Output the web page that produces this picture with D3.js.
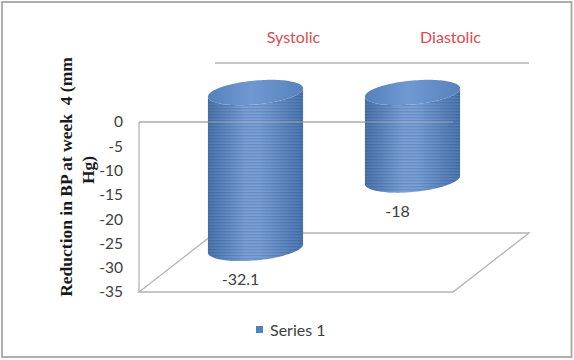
<!DOCTYPE html>
<html>
<head>
<meta charset="utf-8">
<script src="https://cdn.jsdelivr.net/npm/d3@7"></script>
<style>
  html, body { margin: 0; padding: 0; background: #fff; }
  svg { display: block; }
  text { white-space: pre; }
</style>
</head>
<body>
<script>
// ---- data ----
const categories = ["Systolic", "Diastolic"];
const values = [-32.1, -18];
const tickValues = [0, -5, -10, -15, -20, -25, -30, -35];
const seriesName = "Series 1";
const yTitleLines = ["Reduction in BP at week  4 (mm", "Hg)"];

// ---- layout ----
const W = 574, H = 360;
const svg = d3.select("body").append("svg").attr("width", W).attr("height", H);
const defs = svg.append("defs");

const xFront0 = 139, xFront1 = 453;
const y = d3.scaleLinear().domain([-35, 0]).range([292, 122]);
const x = d3.scaleBand().domain(categories).range([xFront0, xFront1]).padding(0);
const depthX = 76, depthY = -59;
const lineCol = "#b4b4b4";

// outer border
svg.append("rect").attr("x", 2).attr("y", 2).attr("width", W - 4.5).attr("height", H - 5)
  .attr("fill", "none").attr("stroke", "#a6a6a6").attr("stroke-width", 1.8);

// gradients
const bodyGrad = defs.append("linearGradient").attr("id", "bodyGrad")
  .attr("x1", "0%").attr("x2", "100%").attr("y1", "0%").attr("y2", "0%");
[["0%", "#4a74ac"], ["40%", "#7aa2d8"], ["55%", "#79a1d7"], ["100%", "#4b76b0"]]
  .forEach(([o, c]) => bodyGrad.append("stop").attr("offset", o).attr("stop-color", c));
const topGrad = defs.append("linearGradient").attr("id", "topGrad")
  .attr("x1", "0%").attr("x2", "100%").attr("y1", "0%").attr("y2", "0%");
[["0%", "#5580bb"], ["45%", "#7099d2"], ["100%", "#5882bd"]]
  .forEach(([o, c]) => topGrad.append("stop").attr("offset", o).attr("stop-color", c));
const stripes = defs.append("pattern").attr("id", "stripes")
  .attr("patternUnits", "userSpaceOnUse").attr("width", 6).attr("height", 3);
stripes.append("rect").attr("x", 0).attr("y", 0).attr("width", 6).attr("height", 1.4)
  .attr("fill", "rgba(20,40,80,0.16)");

// floor
const yb = y(-35);
const floorPts = [[xFront0, yb], [xFront1, yb], [xFront1 + depthX, yb + depthY], [xFront0 + depthX, yb + depthY]];
svg.append("polygon").attr("points", floorPts.map(p => p.join(",")).join(" "))
  .attr("fill", "none").attr("stroke", lineCol).attr("stroke-width", 1.3);

// back wall top edge
svg.append("line")
  .attr("x1", xFront0 + depthX).attr("x2", xFront1 + depthX)
  .attr("y1", y(0) + depthY).attr("y2", y(0) + depthY)
  .attr("stroke", lineCol).attr("stroke-width", 1.3);

// front frame (top at 0, left edge)
const frontTop = () => svg.append("line")
  .attr("x1", xFront0).attr("x2", xFront1).attr("y1", y(0)).attr("y2", y(0))
  .attr("stroke", lineCol).attr("stroke-width", 1.3);
frontTop();
svg.append("line").attr("x1", xFront0).attr("x2", xFront0).attr("y1", y(0)).attr("y2", y(-35))
  .attr("stroke", lineCol).attr("stroke-width", 1.3);

// category labels at back top
svg.append("g").selectAll("text").data(categories).join("text")
  .attr("x", d => x(d) + x.bandwidth() / 2 + depthX)
  .attr("y", y(0) + depthY - 20)
  .attr("text-anchor", "middle")
  .attr("font-family", "Lato, 'Open Sans', sans-serif").attr("font-size", 16)
  .attr("fill", "#dd4a4d")
  .text(d => d);

// cylinders
const skew = Math.tan(-5 * Math.PI / 180);
const ry = 12;
const rx = x.bandwidth() * 0.303;
function ellPts(cx, cy, t0, t1, n) {
  return d3.range(n + 1).map(i => {
    const t = t0 + (t1 - t0) * i / n;
    const lx = rx * Math.cos(t);
    return [cx + lx, cy + ry * Math.sin(t) + skew * lx];
  });
}
const cyl = svg.append("g");
categories.forEach((c, i) => {
  const cx = x(c) + x.bandwidth() / 2 + depthX / 2;
  const yTop = y(0) + depthY / 2;
  const yBot = y(values[i]) + depthY / 2;
  const bottom = ellPts(cx, yBot, Math.PI, 0, 60);
  const topArc = ellPts(cx, yTop, 0, Math.PI, 60);
  const bodyPts = [[cx - rx, yTop - skew * rx], ...bottom, [cx + rx, yTop + skew * rx], ...topArc];
  const line = d3.line();
  cyl.append("path").attr("d", line(bodyPts) + "Z").attr("fill", "url(#bodyGrad)");
  cyl.append("path").attr("d", line(bodyPts) + "Z").attr("fill", "url(#stripes)");
  const cap = ellPts(cx, yTop, 0, 2 * Math.PI, 120);
  cyl.append("path").attr("d", line(cap) + "Z").attr("fill", "url(#topGrad)");
  svg.append("text")
    .attr("x", cx - 15).attr("y", yBot + 37)
    .attr("text-anchor", "middle")
    .attr("font-family", "Lato, 'Open Sans', sans-serif").attr("font-size", 16)
    .attr("fill", "#404040")
    .text(values[i]);
});

// faint front top line over cylinders
frontTop().attr("opacity", 0.45);

// y axis
const axis = d3.axisLeft(y).tickValues(tickValues).tickSize(0).tickPadding(16)
  .tickFormat(d => d === 0 ? "0" : "-" + Math.abs(d));
const gAxis = svg.append("g").attr("transform", `translate(${xFront0},0)`).call(axis);
gAxis.select(".domain").remove();
gAxis.selectAll("text")
  .attr("font-family", "Lato, 'Open Sans', sans-serif").attr("font-size", 15.5)
  .attr("fill", "#404040");

// y title
const yt = svg.append("text")
  .attr("transform", "rotate(-90)")
  .attr("font-family", "'Liberation Serif', 'Times New Roman', serif")
  .attr("font-weight", "bold").attr("font-size", 17.5)
  .attr("fill", "#1a1a1a")
  .attr("text-anchor", "middle");
yt.append("tspan").attr("x", -177).attr("y", 72).text(yTitleLines[0]);
yt.append("tspan").attr("x", -170).attr("y", 94).text(yTitleLines[1]);

// legend
const lg = svg.append("g");
lg.append("rect").attr("x", 256).attr("y", 326).attr("width", 7).attr("height", 7).attr("fill", "#4f81bd");
lg.append("text").attr("x", 270).attr("y", 335.5)
  .attr("font-family", "Lato, 'Open Sans', sans-serif").attr("font-size", 16)
  .attr("fill", "#404040").text(seriesName);
</script>
</body>
</html>
